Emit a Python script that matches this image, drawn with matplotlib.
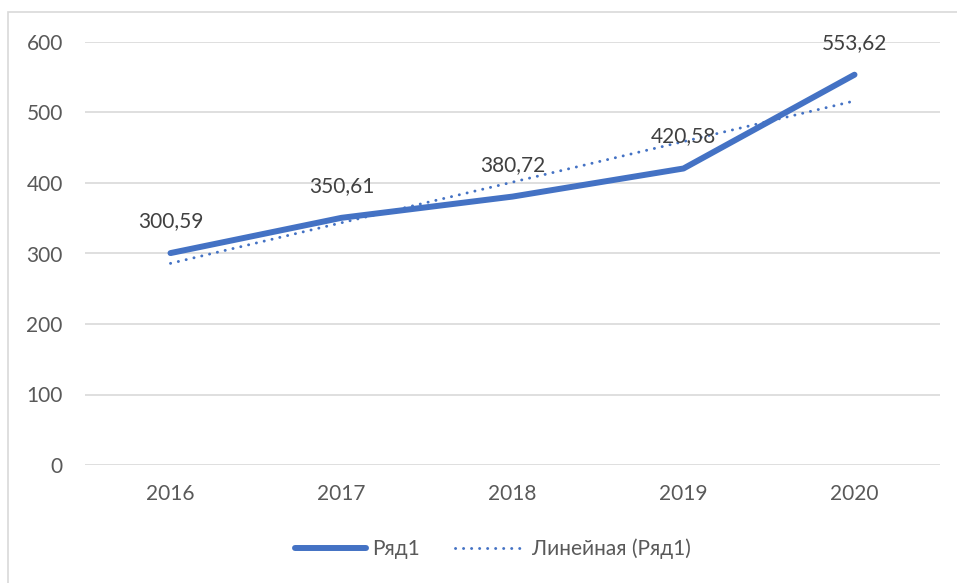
import matplotlib
matplotlib.use("Agg")
import matplotlib.pyplot as plt
from matplotlib.patches import Rectangle

years = ["2016", "2017", "2018", "2019", "2020"]
values = [300.59, 350.61, 380.72, 420.58, 553.62]
trend = [286.0, 343.6, 401.2, 458.8, 516.4]
y_ticks = [0, 100, 200, 300, 400, 500, 600]
series_name = "Ряд1"
trend_name = "Линейная (Ряд1)"

plt.rcParams['font.family'] = ['Lato', 'DejaVu Sans']
text_color = "#595959"
blue = "#4472C4"

fig = plt.figure(figsize=(9.57, 5.83), dpi=100)
fig.patches.append(Rectangle((8/957, -0.1), 1.2, 1 - 12/583 + 0.1,
                             transform=fig.transFigure, fill=False,
                             edgecolor="#D9D9D9", linewidth=1.2))
ax = fig.add_axes([85/957, 1 - 465/583, 855/957, (465 - 42)/583])

x = list(range(len(years)))
ax.plot(x, values, color=blue, linewidth=4.3, solid_capstyle="round",
        label=series_name, zorder=3)
ax.plot(x, trend, color=blue, linewidth=2.1, linestyle=(0, (0.05, 2.7)),
        dash_capstyle="round", label=trend_name, zorder=3)

for xi, v in zip(x, values):
    ax.annotate(f"{v:.2f}".replace(".", ","), (xi, v), xytext=(0, 23),
                textcoords="offset points", ha="center", va="center",
                fontsize=15, color="#404040")

ax.set_xlim(-0.5, len(years) - 0.5)
ax.set_ylim(0, 600)
ax.set_yticks(y_ticks)
ax.set_xticks(x)
ax.set_xticklabels(years)
ax.tick_params(axis="both", length=0, labelsize=15, labelcolor=text_color)
ax.tick_params(axis="y", pad=16)
ax.tick_params(axis="x", pad=14)
ax.grid(axis="y", color="#D9D9D9", linewidth=1.2)
ax.set_axisbelow(True)
for s in ax.spines.values():
    s.set_visible(False)

leg = fig.legend(loc="center", bbox_to_anchor=(493/957, 1 - 549/583), ncol=2,
                 frameon=False, fontsize=15, handlelength=3.4,
                 handletextpad=0.3, columnspacing=1.7)
for t in leg.get_texts():
    t.set_color(text_color)

fig.savefig("out.png", dpi=100)
